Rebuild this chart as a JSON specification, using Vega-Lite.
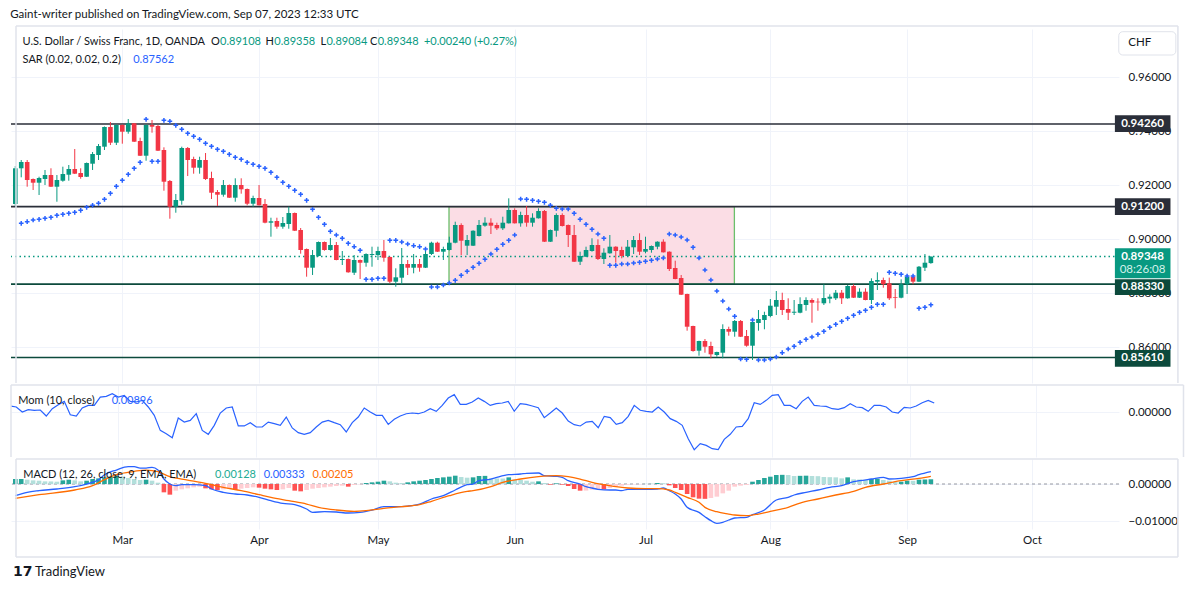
{
  "$schema": "https://vega.github.io/schema/vega-lite/v6.json",
  "background": "#ffffff",
  "padding": {"left": 10, "top": 8, "right": 0, "bottom": 0},
  "title": {"text": "Gaint-writer published on TradingView.com, Sep 07, 2023 12:33 UTC", "anchor": "start", "fontSize": 11.5, "fontWeight": "normal", "color": "#131722", "font": "Lato", "offset": 5},
  "config": {
    "view": {"stroke": null},
    "font": "Lato",
    "axis": {"labelFont": "Lato", "labelFontSize": 11.5, "labelColor": "#131722", "ticks": false, "domain": false, "gridColor": "#f0f3fa", "gridWidth": 1}
  },
  "datasets": {
    "ohlc": [
      {"i":0,"o":0.91296,"h":0.92704,"l":0.91222,"c":0.92619,"m":0.0060,"hg":0.00135},
      {"i":1,"o":0.92619,"h":0.92926,"l":0.92285,"c":0.92852,"s":0.90581,"m":0.0050,"hg":0.00135},
      {"i":2,"o":0.92852,"h":0.92926,"l":0.91937,"c":0.92185,"s":0.90641,"m":0.0000,"hg":0.00117},
      {"i":3,"o":0.92222,"h":0.92241,"l":0.91815,"c":0.92085,"s":0.90704,"m":0.0023,"hg":0.00099},
      {"i":4,"o":0.92085,"h":0.92307,"l":0.91630,"c":0.92259,"s":0.90730,"m":0.0017,"hg":0.00090},
      {"i":5,"o":0.92222,"h":0.92556,"l":0.92000,"c":0.92370,"s":0.90767,"m":0.0020,"hg":0.00072},
      {"i":6,"o":0.92370,"h":0.92619,"l":0.91926,"c":0.91937,"s":0.90804,"m":-0.0040,"hg":0.00070},
      {"i":7,"o":0.91937,"h":0.92370,"l":0.91381,"c":0.92185,"s":0.90878,"m":0.0033,"hg":0.00063},
      {"i":8,"o":0.92159,"h":0.92678,"l":0.92122,"c":0.92407,"s":0.90915,"m":0.0073,"hg":0.00099},
      {"i":9,"o":0.92381,"h":0.92741,"l":0.92159,"c":0.92593,"s":0.90952,"m":0.0106,"hg":0.00117},
      {"i":10,"o":0.92593,"h":0.93333,"l":0.92407,"c":0.92419,"s":0.90989,"m":-0.0027,"hg":0.00099},
      {"i":11,"o":0.92444,"h":0.92619,"l":0.92233,"c":0.92296,"s":0.91063,"m":-0.0040,"hg":0.00072},
      {"i":12,"o":0.92307,"h":0.92833,"l":0.92296,"c":0.92815,"s":0.91174,"m":0.0040,"hg":0.00090},
      {"i":13,"o":0.92789,"h":0.93222,"l":0.92556,"c":0.93148,"s":0.91248,"m":0.0066,"hg":0.00135},
      {"i":14,"o":0.93111,"h":0.93519,"l":0.92926,"c":0.93444,"s":0.91322,"m":0.0066,"hg":0.00153},
      {"i":15,"o":0.93419,"h":0.94167,"l":0.93296,"c":0.94148,"s":0.91470,"m":0.0149,"hg":0.00180},
      {"i":16,"o":0.94148,"h":0.94333,"l":0.93481,"c":0.93567,"s":0.91693,"m":0.0156,"hg":0.00198},
      {"i":17,"o":0.93567,"h":0.94241,"l":0.93481,"c":0.94222,"s":0.91952,"m":0.0183,"hg":0.00216},
      {"i":18,"o":0.94222,"h":0.94241,"l":0.93530,"c":0.93974,"s":0.92174,"m":0.0149,"hg":0.00198},
      {"i":19,"o":0.93974,"h":0.94444,"l":0.93900,"c":0.94285,"s":0.92396,"m":0.0166,"hg":0.00162},
      {"i":20,"o":0.94285,"h":0.94296,"l":0.93593,"c":0.93604,"s":0.92619,"m":0.0106,"hg":0.00135},
      {"i":21,"o":0.93630,"h":0.93752,"l":0.93074,"c":0.93085,"s":0.92841,"m":0.0100,"hg":0.00108},
      {"i":22,"o":0.93085,"h":0.94241,"l":0.92900,"c":0.94222,"s":0.94433,"m":0.0116,"hg":0.00117},
      {"i":23,"o":0.94222,"h":0.94407,"l":0.93937,"c":0.94159,"s":0.92878,"m":0.0050,"hg":0.00090},
      {"i":24,"o":0.94185,"h":0.94222,"l":0.93259,"c":0.93270,"s":0.92878,"m":-0.0033,"hg":0.00036},
      {"i":25,"o":0.93296,"h":0.93396,"l":0.91789,"c":0.92122,"s":0.94396,"m":-0.0183,"hg":-0.00225},
      {"i":26,"o":0.92148,"h":0.92185,"l":0.90752,"c":0.91196,"s":0.94359,"m":-0.0216,"hg":-0.00288},
      {"i":27,"o":0.91196,"h":0.91667,"l":0.90974,"c":0.91444,"s":0.94211,"m":-0.0256,"hg":-0.00180},
      {"i":28,"o":0.91419,"h":0.93419,"l":0.91270,"c":0.93370,"s":0.94063,"m":-0.0060,"hg":-0.00144},
      {"i":29,"o":0.93370,"h":0.93407,"l":0.92333,"c":0.92926,"s":0.93915,"m":-0.0100,"hg":-0.00117},
      {"i":30,"o":0.92963,"h":0.93048,"l":0.92419,"c":0.92641,"s":0.93804,"m":-0.0083,"hg":-0.00090},
      {"i":31,"o":0.92641,"h":0.93048,"l":0.92419,"c":0.92926,"s":0.93693,"m":-0.0017,"hg":-0.00072},
      {"i":32,"o":0.92926,"h":0.93185,"l":0.92185,"c":0.92222,"s":0.93544,"m":-0.0183,"hg":-0.00117},
      {"i":33,"o":0.92259,"h":0.92493,"l":0.91481,"c":0.91715,"s":0.93433,"m":-0.0222,"hg":-0.00144},
      {"i":34,"o":0.91741,"h":0.91815,"l":0.91222,"c":0.91641,"s":0.93322,"m":-0.0133,"hg":-0.00162},
      {"i":35,"o":0.91641,"h":0.92185,"l":0.91567,"c":0.92000,"s":0.93248,"m":-0.0010,"hg":-0.00144},
      {"i":36,"o":0.92000,"h":0.92019,"l":0.91519,"c":0.91530,"s":0.93137,"m":0.0040,"hg":-0.00126},
      {"i":37,"o":0.91530,"h":0.92248,"l":0.91381,"c":0.92000,"s":0.93026,"m":0.0050,"hg":-0.00153},
      {"i":38,"o":0.92000,"h":0.92248,"l":0.91678,"c":0.91841,"s":0.92952,"m":-0.0139,"hg":-0.00126},
      {"i":39,"o":0.91852,"h":0.91870,"l":0.91248,"c":0.91307,"s":0.92841,"m":-0.0139,"hg":-0.00108},
      {"i":40,"o":0.91307,"h":0.91604,"l":0.91196,"c":0.91519,"s":0.92767,"m":-0.0106,"hg":-0.00090},
      {"i":41,"o":0.91519,"h":0.92000,"l":0.91241,"c":0.91248,"s":0.92693,"m":-0.0149,"hg":-0.00099},
      {"i":42,"o":0.91296,"h":0.91481,"l":0.90581,"c":0.90604,"s":0.92619,"m":-0.0149,"hg":-0.00126},
      {"i":43,"o":0.90604,"h":0.90789,"l":0.90085,"c":0.90656,"s":0.92470,"m":-0.0100,"hg":-0.00144},
      {"i":44,"o":0.90667,"h":0.90789,"l":0.90381,"c":0.90456,"s":0.92285,"m":-0.0116,"hg":-0.00162},
      {"i":45,"o":0.90456,"h":0.90815,"l":0.90381,"c":0.90593,"s":0.92100,"m":-0.0133,"hg":-0.00144},
      {"i":46,"o":0.90556,"h":0.91196,"l":0.90381,"c":0.90963,"s":0.91952,"m":-0.0050,"hg":-0.00108},
      {"i":47,"o":0.90963,"h":0.90981,"l":0.90296,"c":0.90307,"s":0.91804,"m":-0.0159,"hg":-0.00180},
      {"i":48,"o":0.90333,"h":0.90407,"l":0.89456,"c":0.89593,"s":0.91656,"m":-0.0206,"hg":-0.00198},
      {"i":49,"o":0.89630,"h":0.89648,"l":0.88604,"c":0.88937,"s":0.91433,"m":-0.0222,"hg":-0.00162},
      {"i":50,"o":0.88937,"h":0.89593,"l":0.88667,"c":0.89407,"s":0.91100,"m":-0.0206,"hg":-0.00126},
      {"i":51,"o":0.89370,"h":0.89907,"l":0.89352,"c":0.89889,"s":0.90804,"m":-0.0149,"hg":-0.00108},
      {"i":52,"o":0.89889,"h":0.89907,"l":0.89567,"c":0.89593,"s":0.90544,"m":-0.0100,"hg":-0.00090},
      {"i":53,"o":0.89593,"h":0.90037,"l":0.89567,"c":0.89778,"s":0.90285,"m":-0.0083,"hg":-0.00072},
      {"i":54,"o":0.89778,"h":0.89889,"l":0.89211,"c":0.89222,"s":0.90148,"m":-0.0106,"hg":-0.00054},
      {"i":55,"o":0.89222,"h":0.89556,"l":0.89037,"c":0.89259,"s":0.90026,"m":-0.0126,"hg":-0.00045},
      {"i":56,"o":0.89259,"h":0.89278,"l":0.88752,"c":0.88767,"s":0.89841,"m":-0.0199,"hg":-0.00072},
      {"i":57,"o":0.88752,"h":0.89407,"l":0.88667,"c":0.89222,"s":0.89715,"m":-0.0106,"hg":-0.00027},
      {"i":58,"o":0.89222,"h":0.89241,"l":0.88519,"c":0.89122,"s":0.89581,"m":-0.0050,"hg":-0.00009},
      {"i":59,"o":0.89122,"h":0.89470,"l":0.88974,"c":0.89444,"s":0.88507,"m":0.0040,"hg":0.00027},
      {"i":60,"o":0.89407,"h":0.89715,"l":0.88974,"c":0.89444,"s":0.88507,"m":0.0000,"hg":0.00045},
      {"i":61,"o":0.89407,"h":0.89715,"l":0.89222,"c":0.89556,"s":0.88544,"m":-0.0033,"hg":0.00063},
      {"i":62,"o":0.89556,"h":0.89963,"l":0.89159,"c":0.89307,"s":0.88544,"m":-0.0033,"hg":0.00090},
      {"i":63,"o":0.89333,"h":0.89352,"l":0.88359,"c":0.88419,"s":0.89952,"m":-0.0123,"hg":0.00072},
      {"i":64,"o":0.88419,"h":0.88915,"l":0.88233,"c":0.88581,"s":0.89952,"m":-0.0073,"hg":0.00036},
      {"i":65,"o":0.88567,"h":0.89667,"l":0.88322,"c":0.89074,"s":0.89889,"m":-0.0040,"hg":0.00027},
      {"i":66,"o":0.89074,"h":0.89222,"l":0.88667,"c":0.88937,"s":0.89815,"m":-0.0017,"hg":0.00045},
      {"i":67,"o":0.88937,"h":0.89444,"l":0.88730,"c":0.89074,"s":0.89752,"m":-0.0010,"hg":0.00072},
      {"i":68,"o":0.89074,"h":0.89259,"l":0.88789,"c":0.88937,"s":0.89715,"m":-0.0017,"hg":0.00090},
      {"i":69,"o":0.88937,"h":0.89630,"l":0.88926,"c":0.89444,"s":0.89630,"m":0.0000,"hg":0.00108},
      {"i":70,"o":0.89444,"h":0.89900,"l":0.89407,"c":0.89863,"s":0.88222,"m":0.0033,"hg":0.00135},
      {"i":71,"o":0.89863,"h":0.89900,"l":0.89519,"c":0.89530,"s":0.88222,"m":0.0007,"hg":0.00162},
      {"i":72,"o":0.89530,"h":0.89715,"l":0.89222,"c":0.89630,"s":0.88296,"m":0.0066,"hg":0.00180},
      {"i":73,"o":0.89593,"h":0.90085,"l":0.89574,"c":0.89863,"s":0.88370,"m":0.0139,"hg":0.00198},
      {"i":74,"o":0.89863,"h":0.90641,"l":0.89841,"c":0.90519,"s":0.88470,"m":0.0173,"hg":0.00225},
      {"i":75,"o":0.90519,"h":0.90581,"l":0.89407,"c":0.89937,"s":0.88656,"m":0.0076,"hg":0.00189},
      {"i":76,"o":0.89752,"h":0.90148,"l":0.89407,"c":0.89963,"s":0.88804,"m":0.0076,"hg":0.00171},
      {"i":77,"o":0.89752,"h":0.90322,"l":0.89741,"c":0.90307,"s":0.88952,"m":0.0100,"hg":0.00180},
      {"i":78,"o":0.90111,"h":0.90704,"l":0.90093,"c":0.90519,"s":0.89100,"m":0.0139,"hg":0.00216},
      {"i":79,"o":0.90493,"h":0.90804,"l":0.90456,"c":0.90604,"s":0.89248,"m":0.0106,"hg":0.00220},
      {"i":80,"o":0.90604,"h":0.90767,"l":0.90185,"c":0.90493,"s":0.89444,"m":0.0066,"hg":0.00153},
      {"i":81,"o":0.90519,"h":0.90604,"l":0.90333,"c":0.90396,"s":0.89619,"m":0.0083,"hg":0.00150},
      {"i":82,"o":0.90396,"h":0.90826,"l":0.90333,"c":0.90604,"s":0.89804,"m":0.0090,"hg":0.00148},
      {"i":83,"o":0.90581,"h":0.91507,"l":0.90574,"c":0.91074,"s":0.89952,"m":0.0106,"hg":0.00180},
      {"i":84,"o":0.91074,"h":0.91137,"l":0.90574,"c":0.90581,"s":0.90148,"m":0.0007,"hg":0.00117},
      {"i":85,"o":0.90581,"h":0.91011,"l":0.90456,"c":0.90889,"s":0.91481,"m":0.0083,"hg":0.00108},
      {"i":86,"o":0.90889,"h":0.91222,"l":0.90456,"c":0.90604,"s":0.91470,"m":0.0076,"hg":0.00090},
      {"i":87,"o":0.90604,"h":0.90952,"l":0.90456,"c":0.90789,"s":0.91433,"m":0.0060,"hg":0.00063},
      {"i":88,"o":0.90767,"h":0.91137,"l":0.90759,"c":0.91037,"s":0.91396,"m":0.0043,"hg":0.00072},
      {"i":89,"o":0.91037,"h":0.91074,"l":0.89889,"c":0.89900,"s":0.91359,"m":-0.0056,"hg":0.00027},
      {"i":90,"o":0.89900,"h":0.90352,"l":0.89889,"c":0.90333,"s":0.91248,"m":-0.0010,"hg":-0.00018},
      {"i":91,"o":0.90307,"h":0.90952,"l":0.90085,"c":0.90889,"s":0.91137,"m":0.0040,"hg":0.00018},
      {"i":92,"o":0.90889,"h":0.90952,"l":0.90463,"c":0.90481,"s":0.91111,"m":-0.0010,"hg":-0.00018},
      {"i":93,"o":0.90519,"h":0.90537,"l":0.89704,"c":0.90148,"s":0.91111,"m":-0.0090,"hg":-0.00054},
      {"i":94,"o":0.90148,"h":0.90519,"l":0.89148,"c":0.89159,"s":0.90952,"m":-0.0126,"hg":-0.00135},
      {"i":95,"o":0.89159,"h":0.89530,"l":0.89037,"c":0.89370,"s":0.90730,"m":-0.0139,"hg":-0.00180},
      {"i":96,"o":0.89344,"h":0.89715,"l":0.89333,"c":0.89593,"s":0.90544,"m":-0.0100,"hg":-0.00178},
      {"i":97,"o":0.89556,"h":0.90026,"l":0.89530,"c":0.89778,"s":0.90359,"m":-0.0093,"hg":-0.00153},
      {"i":98,"o":0.89778,"h":0.89989,"l":0.89222,"c":0.89259,"s":0.90185,"m":-0.0156,"hg":-0.00135},
      {"i":99,"o":0.89259,"h":0.89656,"l":0.89074,"c":0.89493,"s":0.90026,"m":-0.0043,"hg":-0.00144},
      {"i":100,"o":0.89470,"h":0.90148,"l":0.89456,"c":0.89715,"s":0.89026,"m":-0.0056,"hg":-0.00108},
      {"i":101,"o":0.89715,"h":0.89730,"l":0.89122,"c":0.89556,"s":0.89026,"m":-0.0123,"hg":-0.00072},
      {"i":102,"o":0.89593,"h":0.89715,"l":0.89285,"c":0.89370,"s":0.89074,"m":-0.0106,"hg":-0.00045},
      {"i":103,"o":0.89370,"h":0.89963,"l":0.89344,"c":0.89715,"s":0.89074,"m":-0.0043,"hg":-0.00018},
      {"i":104,"o":0.89693,"h":0.90111,"l":0.89444,"c":0.89963,"s":0.89111,"m":0.0066,"hg":-0.00009},
      {"i":105,"o":0.89963,"h":0.90211,"l":0.89407,"c":0.89530,"s":0.89137,"m":0.0017,"hg":-0.00008},
      {"i":106,"o":0.89530,"h":0.90085,"l":0.89470,"c":0.89630,"s":0.89174,"m":0.0007,"hg":0.00003},
      {"i":107,"o":0.89593,"h":0.89759,"l":0.89493,"c":0.89741,"s":0.89211,"m":0.0000,"hg":0.00005},
      {"i":108,"o":0.89715,"h":0.89915,"l":0.89619,"c":0.89900,"s":0.89259,"m":0.0050,"hg":0.00027},
      {"i":109,"o":0.89900,"h":0.89989,"l":0.89500,"c":0.89507,"s":0.89296,"m":0.0000,"hg":0.00022},
      {"i":110,"o":0.89530,"h":0.89544,"l":0.88815,"c":0.88889,"s":0.90185,"m":-0.0066,"hg":-0.00036},
      {"i":111,"o":0.88926,"h":0.89196,"l":0.88507,"c":0.88519,"s":0.90148,"m":-0.0093,"hg":-0.00108},
      {"i":112,"o":0.88556,"h":0.88667,"l":0.87926,"c":0.87937,"s":0.90074,"m":-0.0133,"hg":-0.00162},
      {"i":113,"o":0.87963,"h":0.87974,"l":0.86604,"c":0.86752,"s":0.89963,"m":-0.0266,"hg":-0.00270},
      {"i":114,"o":0.86778,"h":0.86789,"l":0.85826,"c":0.85852,"s":0.89693,"m":-0.0375,"hg":-0.00360},
      {"i":115,"o":0.85863,"h":0.86233,"l":0.85678,"c":0.86222,"s":0.89296,"m":-0.0315,"hg":-0.00396},
      {"i":116,"o":0.86222,"h":0.86296,"l":0.85789,"c":0.86011,"s":0.88852,"m":-0.0332,"hg":-0.00401},
      {"i":117,"o":0.86037,"h":0.86196,"l":0.85581,"c":0.85730,"s":0.88481,"m":-0.0365,"hg":-0.00378},
      {"i":118,"o":0.85704,"h":0.85826,"l":0.85641,"c":0.85815,"s":0.88074,"m":-0.0375,"hg":-0.00342},
      {"i":119,"o":0.85789,"h":0.86841,"l":0.85581,"c":0.86667,"s":0.87704,"m":-0.0272,"hg":-0.00252},
      {"i":120,"o":0.86667,"h":0.86752,"l":0.86419,"c":0.86567,"s":0.87407,"m":-0.0222,"hg":-0.00180},
      {"i":121,"o":0.86567,"h":0.87000,"l":0.86381,"c":0.86963,"s":0.87137,"m":-0.0149,"hg":-0.00072},
      {"i":122,"o":0.86963,"h":0.87000,"l":0.86370,"c":0.86381,"s":0.85556,"m":-0.0143,"hg":-0.00045},
      {"i":123,"o":0.86407,"h":0.86630,"l":0.86011,"c":0.86048,"s":0.85544,"m":-0.0066,"hg":-0.00027},
      {"i":124,"o":0.86048,"h":0.86963,"l":0.85519,"c":0.86926,"s":0.87000,"m":0.0093,"hg":0.00063},
      {"i":125,"o":0.86889,"h":0.87370,"l":0.86604,"c":0.87037,"s":0.85519,"m":0.0076,"hg":0.00108},
      {"i":126,"o":0.87000,"h":0.87307,"l":0.86656,"c":0.87185,"s":0.85519,"m":0.0116,"hg":0.00162},
      {"i":127,"o":0.87148,"h":0.87778,"l":0.87100,"c":0.87530,"s":0.85556,"m":0.0166,"hg":0.00198},
      {"i":128,"o":0.87493,"h":0.88074,"l":0.87185,"c":0.87741,"s":0.85630,"m":0.0173,"hg":0.00243},
      {"i":129,"o":0.87741,"h":0.88011,"l":0.87185,"c":0.87370,"s":0.85789,"m":0.0066,"hg":0.00248},
      {"i":130,"o":0.87407,"h":0.87804,"l":0.87000,"c":0.87270,"s":0.85926,"m":0.0066,"hg":0.00243},
      {"i":131,"o":0.87270,"h":0.87741,"l":0.87185,"c":0.87307,"s":0.86026,"m":0.0033,"hg":0.00216},
      {"i":132,"o":0.87270,"h":0.87841,"l":0.87248,"c":0.87593,"s":0.86174,"m":0.0106,"hg":0.00221},
      {"i":133,"o":0.87556,"h":0.87841,"l":0.87344,"c":0.87741,"s":0.86285,"m":0.0149,"hg":0.00225},
      {"i":134,"o":0.87741,"h":0.87804,"l":0.86900,"c":0.87641,"s":0.86370,"m":0.0066,"hg":0.00216},
      {"i":135,"o":0.87678,"h":0.87804,"l":0.87344,"c":0.87656,"s":0.86470,"m":0.0060,"hg":0.00212},
      {"i":136,"o":0.87619,"h":0.88322,"l":0.87556,"c":0.87815,"s":0.86581,"m":0.0056,"hg":0.00189},
      {"i":137,"o":0.87789,"h":0.87952,"l":0.87619,"c":0.87863,"s":0.86730,"m":0.0033,"hg":0.00185},
      {"i":138,"o":0.87804,"h":0.88111,"l":0.87741,"c":0.88011,"s":0.86841,"m":0.0027,"hg":0.00180},
      {"i":139,"o":0.88011,"h":0.88111,"l":0.87593,"c":0.87804,"s":0.86952,"m":0.0043,"hg":0.00153},
      {"i":140,"o":0.87804,"h":0.88296,"l":0.87789,"c":0.88259,"s":0.87063,"m":0.0083,"hg":0.00180},
      {"i":141,"o":0.88259,"h":0.88322,"l":0.87815,"c":0.87826,"s":0.87174,"m":0.0050,"hg":0.00126},
      {"i":142,"o":0.87826,"h":0.88174,"l":0.87815,"c":0.88048,"s":0.87285,"m":0.0043,"hg":0.00122},
      {"i":143,"o":0.88048,"h":0.88174,"l":0.87730,"c":0.87741,"s":0.87359,"m":0.0007,"hg":0.00108},
      {"i":144,"o":0.87741,"h":0.88544,"l":0.87593,"c":0.88444,"s":0.87470,"m":0.0066,"hg":0.00135},
      {"i":145,"o":0.88419,"h":0.88767,"l":0.88111,"c":0.88481,"s":0.87581,"m":0.0066,"hg":0.00144},
      {"i":146,"o":0.88481,"h":0.88570,"l":0.88196,"c":0.88322,"s":0.87581,"m":0.0050,"hg":0.00108},
      {"i":147,"o":0.88359,"h":0.88570,"l":0.87741,"c":0.87804,"s":0.88767,"m":0.0000,"hg":0.00090},
      {"i":148,"o":0.87841,"h":0.88148,"l":0.87433,"c":0.87815,"s":0.88730,"m":-0.0010,"hg":0.00054},
      {"i":149,"o":0.87826,"h":0.88507,"l":0.87804,"c":0.88322,"s":0.88693,"m":0.0046,"hg":0.00063},
      {"i":150,"o":0.88322,"h":0.88667,"l":0.87963,"c":0.88604,"s":0.88630,"m":0.0040,"hg":0.00090},
      {"i":151,"o":0.88604,"h":0.88630,"l":0.88322,"c":0.88419,"s":0.88630,"m":0.0060,"hg":0.00086},
      {"i":152,"o":0.88419,"h":0.89000,"l":0.88407,"c":0.88974,"s":0.87433,"m":0.0093,"hg":0.00117},
      {"i":153,"o":0.88937,"h":0.89444,"l":0.88815,"c":0.89122,"s":0.87470,"m":0.0116,"hg":0.00122},
      {"i":154,"o":0.89108,"h":0.89358,"l":0.89084,"c":0.89348,"s":0.87562,"m":0.00896,"hg":0.00128}
    ],
    "macd": [
      {"i":0,"v":-0.00315},{"i":2,"v":-0.00225},{"i":4,"v":-0.0018},{"i":7,"v":-0.00135},{"i":10,"v":-0.00072},{"i":12,"v":0},{"i":14,"v":0.00117},{"i":15,"v":0.00252},{"i":17,"v":0.00378},{"i":19,"v":0.00468},{"i":20,"v":0.00468},{"i":21,"v":0.00432},{"i":22,"v":0.00432},{"i":23,"v":0.0045},{"i":24,"v":0.00378},{"i":25,"v":0.00135},{"i":26,"v":0},{"i":27,"v":-0.00045},{"i":28,"v":-0.00018},{"i":30,"v":-0.00018},{"i":32,"v":-0.00045},{"i":33,"v":-0.00135},{"i":35,"v":-0.00225},{"i":37,"v":-0.0027},{"i":39,"v":-0.00297},{"i":41,"v":-0.0036},{"i":43,"v":-0.0045},{"i":45,"v":-0.00523},{"i":47,"v":-0.00559},{"i":49,"v":-0.00676},{"i":50,"v":-0.00766},{"i":52,"v":-0.00748},{"i":54,"v":-0.00757},{"i":56,"v":-0.00784},{"i":58,"v":-0.00766},{"i":60,"v":-0.00703},{"i":62,"v":-0.00613},{"i":64,"v":-0.00613},{"i":66,"v":-0.00595},{"i":68,"v":-0.00541},{"i":70,"v":-0.00405},{"i":72,"v":-0.00315},{"i":74,"v":-0.00162},{"i":76,"v":-0.00018},{"i":77,"v":0},{"i":78,"v":0.0009},{"i":80,"v":0.00135},{"i":81,"v":0.0018},{"i":83,"v":0.00252},{"i":85,"v":0.0027},{"i":86,"v":0.00288},{"i":88,"v":0.00297},{"i":89,"v":0.00225},{"i":91,"v":0.00207},{"i":92,"v":0.0018},{"i":93,"v":0.0009},{"i":95,"v":0},{"i":96,"v":-0.00072},{"i":97,"v":-0.00108},{"i":98,"v":-0.00144},{"i":100,"v":-0.00162},{"i":101,"v":-0.00162},{"i":102,"v":-0.0018},{"i":103,"v":-0.00144},{"i":106,"v":-0.00144},{"i":108,"v":-0.00135},{"i":109,"v":-0.00108},{"i":110,"v":-0.0018},{"i":111,"v":-0.0027},{"i":112,"v":-0.00405},{"i":113,"v":-0.00631},{"i":115,"v":-0.00766},{"i":116,"v":-0.00883},{"i":117,"v":-0.00991},{"i":118,"v":-0.01063},{"i":119,"v":-0.01036},{"i":120,"v":-0.00973},{"i":121,"v":-0.00919},{"i":123,"v":-0.00901},{"i":124,"v":-0.00829},{"i":126,"v":-0.00703},{"i":128,"v":-0.00432},{"i":130,"v":-0.0036},{"i":131,"v":-0.00297},{"i":133,"v":-0.00225},{"i":135,"v":-0.00162},{"i":137,"v":-0.0009},{"i":139,"v":-0.00045},{"i":141,"v":0.00063},{"i":142,"v":0.0009},{"i":144,"v":0.00135},{"i":146,"v":0.0018},{"i":147,"v":0.00135},{"i":149,"v":0.00153},{"i":151,"v":0.00198},{"i":152,"v":0.00252},{"i":154,"v":0.00333}
    ],
    "signal": [
      {"i":0,"v":-0.00387},{"i":4,"v":-0.00288},{"i":10,"v":-0.00162},{"i":13,"v":-0.00045},{"i":15,"v":0.00117},{"i":17,"v":0.00252},{"i":20,"v":0.00342},{"i":22,"v":0.00378},{"i":24,"v":0.00333},{"i":26,"v":0.00198},{"i":29,"v":0.00108},{"i":32,"v":0.00018},{"i":35,"v":-0.0009},{"i":38,"v":-0.0018},{"i":41,"v":-0.00288},{"i":43,"v":-0.0036},{"i":46,"v":-0.0045},{"i":49,"v":-0.00541},{"i":51,"v":-0.00631},{"i":54,"v":-0.00703},{"i":57,"v":-0.00739},{"i":59,"v":-0.00721},{"i":62,"v":-0.00658},{"i":65,"v":-0.00613},{"i":68,"v":-0.00559},{"i":70,"v":-0.00468},{"i":73,"v":-0.00315},{"i":76,"v":-0.00198},{"i":77,"v":-0.0018},{"i":80,"v":-0.00072},{"i":82,"v":0.00045},{"i":85,"v":0.00135},{"i":88,"v":0.00198},{"i":91,"v":0.00225},{"i":93,"v":0.00198},{"i":95,"v":0.00135},{"i":97,"v":0.00045},{"i":99,"v":-0.00018},{"i":101,"v":-0.00072},{"i":103,"v":-0.00108},{"i":106,"v":-0.00126},{"i":108,"v":-0.00126},{"i":110,"v":-0.00162},{"i":111,"v":-0.00225},{"i":113,"v":-0.0036},{"i":115,"v":-0.00495},{"i":116,"v":-0.00631},{"i":118,"v":-0.00748},{"i":120,"v":-0.00811},{"i":121,"v":-0.00838},{"i":123,"v":-0.00856},{"i":125,"v":-0.00811},{"i":127,"v":-0.00739},{"i":130,"v":-0.00631},{"i":132,"v":-0.00514},{"i":135,"v":-0.00405},{"i":138,"v":-0.00297},{"i":141,"v":-0.00198},{"i":143,"v":-0.0009},{"i":146,"v":0},{"i":149,"v":0.0009},{"i":152,"v":0.00153},{"i":154,"v":0.00207}
    ],
    "hdr": [
      {"i":1.23,"p":0.97307,"t":"U.S. Dollar / Swiss Franc, 1D, OANDA","k":"lab"},
      {"i":34.45,"p":0.97307,"t":"0.89108","k":"val"},
      {"i":43.57,"p":0.97307,"t":"0.89358","k":"val"},
      {"i":52.33,"p":0.97307,"t":"0.89084","k":"val"},
      {"i":60.95,"p":0.97307,"t":"0.89348","k":"val"},
      {"i":68.73,"p":0.97307,"t":"+0.00240 (+0.27%)","k":"val"},
      {"i":1.23,"p":0.9663,"t":"SAR (0.02, 0.02, 0.2)","k":"lab"},
      {"i":19.83,"p":0.9663,"t":"0.87562","k":"sar"}
    ],
    "ohlcLetters": [
      {"i":34.4,"p":0.97307,"t":"O"},
      {"i":43.52,"p":0.97307,"t":"H"},
      {"i":52.28,"p":0.97307,"t":"L"},
      {"i":60.9,"p":0.97307,"t":"C"}
    ],
    "tags": [
      {"lo":0.9396,"hi":0.9458,"c":0.9427,"t":"0.94260","k":"res"},
      {"lo":0.90886,"hi":0.91506,"c":0.91196,"t":"0.91200","k":"res"},
      {"lo":0.88543,"hi":0.89656,"c":0.89344,"t":"0.89348","k":"cur"},
      {"lo":0.87926,"hi":0.88507,"c":0.88215,"t":"0.88330","k":"sup"},
      {"lo":0.85271,"hi":0.85891,"c":0.85581,"t":"0.85610","k":"sup"}
    ]
  },
  "spacing": 0,
  "resolve": {"scale": {"x": "independent", "y": "independent", "color": "independent"}},
  "vconcat": [
    {
      "width": 1108,
      "height": 354,
      "resolve": {"scale": {"color": "independent"}},
      "layer": [
        {
          "data": {"values": [{"a": 72.95, "b": 120.95, "top": 0.912, "bot": 0.8833}]},
          "mark": {"type": "rect", "fill": "#fbdde5", "stroke": "#6bbf6b", "strokeWidth": 1.3},
          "encoding": {
            "x": {"field": "a", "type": "quantitative", "scale": {"domain": [0.12, 184.8], "nice": false, "zero": false}, "axis": {"title": null}},
            "x2": {"field": "b"},
            "y": {"field": "top", "type": "quantitative", "scale": {"domain": [0.84667, 0.97778], "nice": false, "zero": false}, "axis": {"title": null}},
            "y2": {"field": "bot"}
          }
        },
        {
          "data": {"values": [{"p": 0.9426, "k": "res"}, {"p": 0.912, "k": "res"}, {"p": 0.8833, "k": "sup"}, {"p": 0.8561, "k": "sup"}]},
          "mark": {"type": "rule", "strokeWidth": 1.6},
          "encoding": {
            "y": {"field": "p", "type": "quantitative", "scale": {"domain": [0.84667, 0.97778], "nice": false, "zero": false}, "axis": {"title": null}},
            "color": {"field": "k", "type": "nominal", "scale": {"domain": ["res", "sup"], "range": ["#2a2e39", "#0c4a3c"]}, "legend": null}
          }
        },
        {
          "data": {"values": [{"p": 0.89348}]},
          "mark": {"type": "rule", "color": "#089981", "strokeWidth": 1.5, "strokeDash": [1.5, 3]},
          "encoding": {
            "y": {"field": "p", "type": "quantitative", "scale": {"domain": [0.84667, 0.97778], "nice": false, "zero": false}, "axis": {"title": null}}
          }
        },
        {
          "data": {"name": "ohlc"},
          "mark": {"type": "rule", "strokeWidth": 1, "clip": true},
          "encoding": {
            "x": {"field": "i", "type": "quantitative", "scale": {"domain": [0.12, 184.8], "nice": false, "zero": false},
                  "axis": {"title": null, "values": [18, 41, 61, 84, 106, 127, 150, 171], "labels": false, "grid": true}},
            "y": {"field": "l", "type": "quantitative", "scale": {"domain": [0.84667, 0.97778], "nice": false, "zero": false},
                  "axis": {"title": null, "orient": "right", "values": [0.86, 0.88, 0.9, 0.92, 0.94, 0.96], "format": ".5f", "labelPadding": 9, "grid": true}},
            "y2": {"field": "h"},
            "color": {"condition": {"test": "datum.c >= datum.o", "value": "#089981"}, "value": "#f23645"}
          }
        },
        {
          "data": {"name": "ohlc"},
          "mark": {"type": "bar", "width": 4.6, "clip": true},
          "encoding": {
            "x": {"field": "i", "type": "quantitative", "scale": {"domain": [0.12, 184.8], "nice": false, "zero": false}, "axis": {"title": null}},
            "y": {"field": "o", "type": "quantitative", "scale": {"domain": [0.84667, 0.97778], "nice": false, "zero": false}, "axis": {"title": null}},
            "y2": {"field": "c"},
            "color": {"condition": {"test": "datum.c >= datum.o", "value": "#089981"}, "value": "#f23645"}
          }
        },
        {
          "data": {"name": "ohlc"},
          "transform": [{"filter": "isValid(datum.s)"}],
          "mark": {"type": "point", "shape": "M-1,0H1M0,-1V1", "filled": false, "color": "#2962ff", "strokeWidth": 1.5, "size": 22, "opacity": 1},
          "encoding": {
            "x": {"field": "i", "type": "quantitative", "scale": {"domain": [0.12, 184.8], "nice": false, "zero": false}, "axis": {"title": null}},
            "y": {"field": "s", "type": "quantitative", "scale": {"domain": [0.84667, 0.97778], "nice": false, "zero": false}, "axis": {"title": null}}
          }
        },
        {
          "data": {"name": "hdr"},
          "mark": {"type": "text", "align": "left", "baseline": "middle", "fontSize": 11, "font": "Lato"},
          "encoding": {
            "x": {"field": "i", "type": "quantitative", "scale": {"domain": [0.12, 184.8], "nice": false, "zero": false}, "axis": {"title": null}},
            "y": {"field": "p", "type": "quantitative", "scale": {"domain": [0.84667, 0.97778], "nice": false, "zero": false}, "axis": {"title": null}},
            "text": {"field": "t"},
            "color": {"field": "k", "type": "nominal", "scale": {"domain": ["lab", "val", "sar"], "range": ["#131722", "#089981", "#2962ff"]}, "legend": null}
          }
        },
        {
          "data": {"name": "ohlcLetters"},
          "mark": {"type": "text", "align": "right", "baseline": "middle", "fontSize": 11, "font": "Lato", "color": "#131722"},
          "encoding": {
            "x": {"field": "i", "type": "quantitative", "scale": {"domain": [0.12, 184.8], "nice": false, "zero": false}, "axis": {"title": null}},
            "y": {"field": "p", "type": "quantitative", "scale": {"domain": [0.84667, 0.97778], "nice": false, "zero": false}, "axis": {"title": null}},
            "text": {"field": "t"}
          }
        },
        {
          "data": {"name": "tags"},
          "mark": {"type": "rect"},
          "encoding": {
            "x": {"datum": 184.95, "type": "quantitative", "scale": {"domain": [0.12, 184.8], "nice": false, "zero": false}, "axis": {"title": null}},
            "x2": {"datum": 194.3},
            "y": {"field": "lo", "type": "quantitative", "scale": {"domain": [0.84667, 0.97778], "nice": false, "zero": false}, "axis": {"title": null}},
            "y2": {"field": "hi"},
            "color": {"field": "k", "type": "nominal", "scale": {"domain": ["res", "sup", "cur"], "range": ["#2a2e39", "#0c4a3c", "#089981"]}, "legend": null}
          }
        },
        {
          "data": {"name": "tags"},
          "mark": {"type": "text", "align": "center", "baseline": "middle", "fontSize": 11.5, "fontWeight": "bold", "font": "Lato", "color": "#ffffff"},
          "encoding": {
            "x": {"datum": 189.6, "type": "quantitative", "scale": {"domain": [0.12, 184.8], "nice": false, "zero": false}, "axis": {"title": null}},
            "y": {"field": "c", "type": "quantitative", "scale": {"domain": [0.84667, 0.97778], "nice": false, "zero": false}, "axis": {"title": null}},
            "text": {"field": "t"}
          }
        },
        {
          "data": {"values": [{"p": 0.88852, "t": "08:26:08"}]},
          "mark": {"type": "text", "align": "center", "baseline": "middle", "fontSize": 11.5, "font": "Lato", "color": "#d4f1eb"},
          "encoding": {
            "x": {"datum": 189.6, "type": "quantitative", "scale": {"domain": [0.12, 184.8], "nice": false, "zero": false}, "axis": {"title": null}},
            "y": {"field": "p", "type": "quantitative", "scale": {"domain": [0.84667, 0.97778], "nice": false, "zero": false}, "axis": {"title": null}},
            "text": {"field": "t"}
          }
        },
        {
          "data": {"values": [{"lo": 0.96815, "hi": 0.97678}]},
          "mark": {"type": "rect", "fill": "#ffffff", "stroke": "#e0e3eb", "strokeWidth": 1, "cornerRadius": 4},
          "encoding": {
            "x": {"datum": 185.6, "type": "quantitative", "scale": {"domain": [0.12, 184.8], "nice": false, "zero": false}, "axis": {"title": null}},
            "x2": {"datum": 195.2},
            "y": {"field": "lo", "type": "quantitative", "scale": {"domain": [0.84667, 0.97778], "nice": false, "zero": false}, "axis": {"title": null}},
            "y2": {"field": "hi"}
          }
        },
        {
          "data": {"values": [{"p": 0.97247, "t": "CHF"}]},
          "mark": {"type": "text", "align": "left", "baseline": "middle", "fontSize": 11.5, "font": "Lato", "color": "#131722"},
          "encoding": {
            "x": {"datum": 187.2, "type": "quantitative", "scale": {"domain": [0.12, 184.8], "nice": false, "zero": false}, "axis": {"title": null}},
            "y": {"field": "p", "type": "quantitative", "scale": {"domain": [0.84667, 0.97778], "nice": false, "zero": false}, "axis": {"title": null}},
            "text": {"field": "t"}
          }
        },
        {
          "data": {"values": [{"p": 0.97889}]},
          "mark": {"type": "rule", "color": "#e0e3eb", "strokeWidth": 1.5},
          "encoding": {
            "x": {"datum": 0.12, "type": "quantitative", "scale": {"domain": [0.12, 184.8], "nice": false, "zero": false}, "axis": {"title": null}},
            "x2": {"datum": 195.55},
            "y": {"field": "p", "type": "quantitative", "scale": {"domain": [0.84667, 0.97778], "nice": false, "zero": false}, "axis": {"title": null}}
          }
        },
        {
          "data": {"values": [{"x": 0.12}, {"x": 195.55}]},
          "mark": {"type": "rule", "color": "#e0e3eb", "strokeWidth": 1.5},
          "encoding": {
            "x": {"field": "x", "type": "quantitative", "scale": {"domain": [0.12, 184.8], "nice": false, "zero": false}, "axis": {"title": null}},
            "y": {"datum": 0.97889, "type": "quantitative", "scale": {"domain": [0.84667, 0.97778], "nice": false, "zero": false}, "axis": {"title": null}},
            "y2": {"datum": 0.84667}
          }
        }
      ]
    },
    {
      "width": 1108,
      "height": 72,
      "resolve": {"scale": {"color": "independent"}},
      "layer": [
        {
          "data": {"values": [{"m": 0.0269}]},
          "mark": {"type": "rule", "color": "#e0e3eb", "strokeWidth": 1.5},
          "encoding": {
            "x": {"datum": 0.12, "type": "quantitative", "scale": {"domain": [0.12, 184.8], "nice": false, "zero": false}, "axis": {"title": null}},
            "x2": {"datum": 195.55},
            "y": {"field": "m", "type": "quantitative", "scale": {"domain": [-0.0448, 0.0269], "nice": false, "zero": false}, "axis": {"title": null}}
          }
        },
        {
          "data": {"name": "ohlc"},
          "mark": {"type": "line", "color": "#2962ff", "strokeWidth": 1.2, "clip": true},
          "encoding": {
            "x": {"field": "i", "type": "quantitative", "scale": {"domain": [0.12, 184.8], "nice": false, "zero": false},
                  "axis": {"title": null, "values": [18, 41, 61, 84, 106, 127, 150, 171], "labels": false, "grid": true}},
            "y": {"field": "m", "type": "quantitative", "scale": {"domain": [-0.0448, 0.0269], "nice": false, "zero": false},
                  "axis": {"title": null, "orient": "right", "values": [0], "format": ".5f", "labelPadding": 9, "grid": true}}
          }
        },
        {
          "data": {"values": [{"i": 1.33, "m": 0.01096, "t": "Mom (10, close)", "k": "lab"}, {"i": 16.9, "m": 0.01096, "t": "0.00896", "k": "val"}]},
          "mark": {"type": "text", "align": "left", "baseline": "middle", "fontSize": 11, "font": "Lato"},
          "encoding": {
            "x": {"field": "i", "type": "quantitative", "scale": {"domain": [0.12, 184.8], "nice": false, "zero": false}, "axis": {"title": null}},
            "y": {"field": "m", "type": "quantitative", "scale": {"domain": [-0.0448, 0.0269], "nice": false, "zero": false}, "axis": {"title": null}},
            "text": {"field": "t"},
            "color": {"field": "k", "type": "nominal", "scale": {"domain": ["lab", "val"], "range": ["#131722", "#2962ff"]}, "legend": null}
          }
        },
        {
          "data": {"values": [{"x": 0.12}, {"x": 195.55}]},
          "mark": {"type": "rule", "color": "#e0e3eb", "strokeWidth": 1.5},
          "encoding": {
            "x": {"field": "x", "type": "quantitative", "scale": {"domain": [0.12, 184.8], "nice": false, "zero": false}, "axis": {"title": null}}
          }
        }
      ]
    },
    {
      "width": 1108,
      "height": 70,
      "resolve": {"scale": {"color": "independent"}},
      "layer": [
        {
          "data": {"values": [{"v": 0.00676}, {"v": -0.01973}]},
          "mark": {"type": "rule", "color": "#e0e3eb", "strokeWidth": 1.5},
          "encoding": {
            "x": {"datum": 0.12, "type": "quantitative", "scale": {"domain": [0.12, 184.8], "nice": false, "zero": false}, "axis": {"title": null}},
            "x2": {"datum": 195.55},
            "y": {"field": "v", "type": "quantitative", "scale": {"domain": [-0.01216, 0.00676], "nice": false, "zero": false}, "axis": {"title": null}}
          }
        },
        {
          "data": {"values": [{"v": 0}]},
          "mark": {"type": "rule", "color": "#9598a1", "strokeWidth": 1, "strokeDash": [3, 3]},
          "encoding": {
            "y": {"field": "v", "type": "quantitative", "scale": {"domain": [-0.01216, 0.00676], "nice": false, "zero": false}, "axis": {"title": null}}
          }
        },
        {
          "data": {"name": "ohlc"},
          "transform": [{"window": [{"op": "lag", "field": "hg", "as": "ph"}], "sort": [{"field": "i"}]}],
          "mark": {"type": "bar", "width": 4.6, "clip": true},
          "encoding": {
            "x": {"field": "i", "type": "quantitative", "scale": {"domain": [0.12, 184.8], "nice": false, "zero": false},
                  "axis": {"title": null, "values": [18, 41, 61, 84, 106, 127, 150, 171], "grid": true, "labelPadding": 5,
                           "labelExpr": "['Mar','Apr','May','Jun','Jul','Aug','Sep','Oct'][indexof([18,41,61,84,106,127,150,171], datum.value)]"}},
            "y": {"field": "hg", "type": "quantitative", "scale": {"domain": [-0.01216, 0.00676], "nice": false, "zero": false},
                  "axis": {"title": null, "orient": "right", "values": [0, -0.01], "format": ".5f", "labelPadding": 9, "grid": true}},
            "y2": {"datum": 0},
            "color": {
              "condition": [
                {"test": "datum.hg >= 0 && datum.hg >= datum.ph", "value": "#26a69a"},
                {"test": "datum.hg >= 0", "value": "#b2dfdb"},
                {"test": "datum.hg < datum.ph", "value": "#ff5252"}
              ],
              "value": "#ffcdd2"
            }
          }
        },
        {
          "data": {"name": "macd"},
          "mark": {"type": "line", "color": "#2962ff", "strokeWidth": 1.3, "clip": true, "interpolate": "monotone"},
          "encoding": {
            "x": {"field": "i", "type": "quantitative", "scale": {"domain": [0.12, 184.8], "nice": false, "zero": false}, "axis": {"title": null}},
            "y": {"field": "v", "type": "quantitative", "scale": {"domain": [-0.01216, 0.00676], "nice": false, "zero": false}, "axis": {"title": null}}
          }
        },
        {
          "data": {"name": "signal"},
          "mark": {"type": "line", "color": "#ff6d00", "strokeWidth": 1.3, "clip": true, "interpolate": "monotone"},
          "encoding": {
            "x": {"field": "i", "type": "quantitative", "scale": {"domain": [0.12, 184.8], "nice": false, "zero": false}, "axis": {"title": null}},
            "y": {"field": "v", "type": "quantitative", "scale": {"domain": [-0.01216, 0.00676], "nice": false, "zero": false}, "axis": {"title": null}}
          }
        },
        {
          "data": {"values": [
            {"i": 1.33, "v": 0.00251, "t": "MACD (12, 26, close, 9, EMA, EMA)", "k": "lab"},
            {"i": 33.6, "v": 0.00251, "t": "0.00128", "k": "hist"},
            {"i": 41.78, "v": 0.00251, "t": "0.00333", "k": "macd"},
            {"i": 50.0, "v": 0.00251, "t": "0.00205", "k": "sig"}
          ]},
          "mark": {"type": "text", "align": "left", "baseline": "middle", "fontSize": 11, "font": "Lato"},
          "encoding": {
            "x": {"field": "i", "type": "quantitative", "scale": {"domain": [0.12, 184.8], "nice": false, "zero": false}, "axis": {"title": null}},
            "y": {"field": "v", "type": "quantitative", "scale": {"domain": [-0.01216, 0.00676], "nice": false, "zero": false}, "axis": {"title": null}},
            "text": {"field": "t"},
            "color": {"field": "k", "type": "nominal", "scale": {"domain": ["lab", "hist", "macd", "sig"], "range": ["#131722", "#22ab94", "#2962ff", "#ff6d00"]}, "legend": null}
          }
        },
        {
          "data": {"values": [{"x": 0.12}, {"x": 195.55}]},
          "mark": {"type": "rule", "color": "#e0e3eb", "strokeWidth": 1.5},
          "encoding": {
            "x": {"field": "x", "type": "quantitative", "scale": {"domain": [0.12, 184.8], "nice": false, "zero": false}, "axis": {"title": null}},
            "y": {"datum": 0.00676, "type": "quantitative", "scale": {"domain": [-0.01216, 0.00676], "nice": false, "zero": false}, "axis": {"title": null}},
            "y2": {"datum": -0.01973}
          }
        }
      ]
    },
    {
      "width": 1108,
      "height": 30,
      "layer": [
        {
          "data": {"values": [{"i": 0.45, "y": 0.55, "t": "17"}]},
          "mark": {"type": "text", "align": "left", "baseline": "middle", "fontSize": 14, "fontWeight": "bold", "font": "DejaVu Sans", "color": "#131722"},
          "encoding": {
            "x": {"field": "i", "type": "quantitative", "scale": {"domain": [0.12, 184.8], "nice": false, "zero": false}, "axis": null},
            "y": {"field": "y", "type": "quantitative", "scale": {"domain": [0, 1], "nice": false, "zero": false}, "axis": null},
            "text": {"field": "t"}
          }
        },
        {
          "data": {"values": [{"i": 4.1, "y": 0.55, "t": "TradingView"}]},
          "mark": {"type": "text", "align": "left", "baseline": "middle", "fontSize": 13, "font": "Lato", "color": "#131722"},
          "encoding": {
            "x": {"field": "i", "type": "quantitative", "scale": {"domain": [0.12, 184.8], "nice": false, "zero": false}, "axis": null},
            "y": {"field": "y", "type": "quantitative", "scale": {"domain": [0, 1], "nice": false, "zero": false}, "axis": null},
            "text": {"field": "t"}
          }
        }
      ]
    }
  ]
}
